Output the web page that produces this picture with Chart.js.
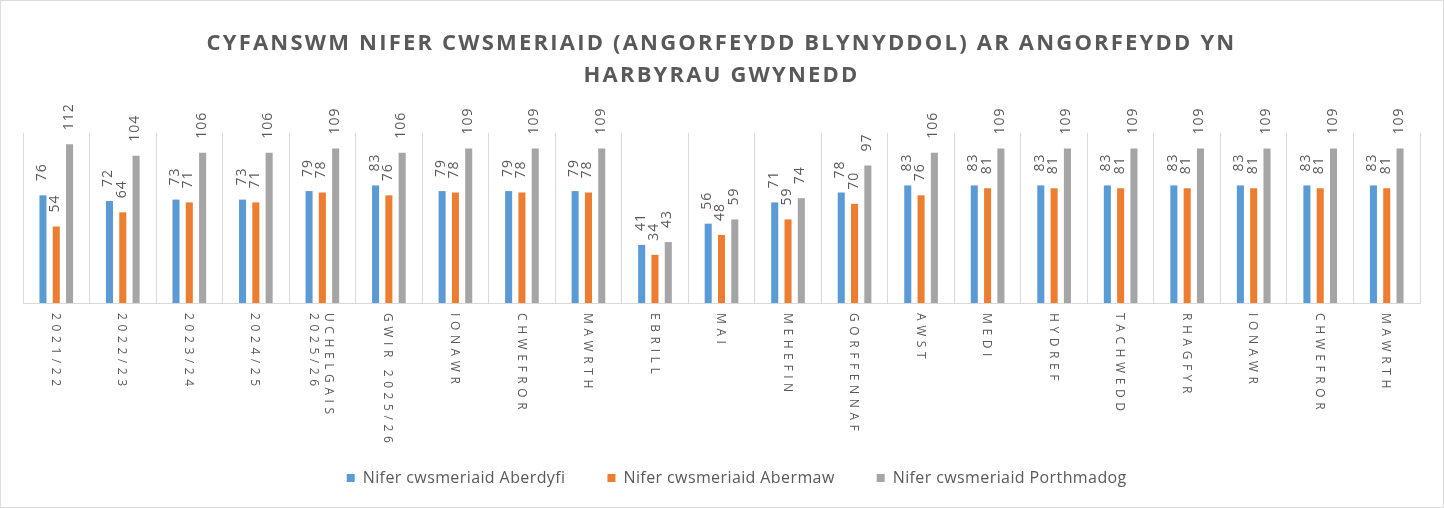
<!DOCTYPE html>
<html>
<head>
<meta charset="utf-8">
<script src="https://cdn.jsdelivr.net/npm/chart.js@4.4.1/dist/chart.umd.min.js"></script>
<style>
  html, body { margin: 0; padding: 0; background: #ffffff; }
  #c { display: block; }
</style>
</head>
<body>
<canvas id="c" width="1444" height="508"></canvas>
<script>
// ---- Data ----
const categories = [
  '2021/22', '2022/23', '2023/24', '2024/25', ['UCHELGAIS', '2025/26'], 'GWIR 2025/26',
  'IONAWR', 'CHWEFROR', 'MAWRTH', 'EBRILL', 'MAI', 'MEHEFIN', 'GORFFENNAF', 'AWST',
  'MEDI', 'HYDREF', 'TACHWEDD', 'RHAGFYR', 'IONAWR', 'CHWEFROR', 'MAWRTH'
];
const aberdyfi   = [76, 72, 73, 73, 79, 83, 79, 79, 79, 41, 56, 71, 78, 83, 83, 83, 83, 83, 83, 83, 83];
const abermaw    = [54, 64, 71, 71, 78, 76, 78, 78, 78, 34, 48, 59, 70, 76, 81, 81, 81, 81, 81, 81, 81];
const porthmadog = [112, 104, 106, 106, 109, 106, 109, 109, 109, 43, 59, 74, 97, 106, 109, 109, 109, 109, 109, 109, 109];
const seriesNames = ['Nifer cwsmeriaid Aberdyfi', 'Nifer cwsmeriaid Abermaw', 'Nifer cwsmeriaid Porthmadog'];
const titleLines = ['CYFANSWM NIFER CWSMERIAID (ANGORFEYDD BLYNYDDOL) AR ANGORFEYDD YN', 'HARBYRAU GWYNEDD'];
const yMin = 0, yMax = 120;

// ---- Styles ----
const COLORS = ['#5b9bd5', '#ed7d31', '#a5a5a5'];
const TEXT = '#595959';
const GRID = '#d9d9d9';
const FONT = "'Open Sans', 'Liberation Sans', sans-serif";

const bgBorderPlugin = {
  id: 'bgBorder',
  beforeDraw(chart) {
    const c = chart.ctx;
    c.save();
    c.fillStyle = '#ffffff';
    c.fillRect(0, 0, chart.width, chart.height);
    c.strokeStyle = '#dcdcdc';
    c.lineWidth = 1;
    c.strokeRect(0.5, 0.5, chart.width - 1, chart.height - 1);
    c.restore();
    const wrap = (box, spacing) => {
      if (box && !box._lsWrapped) {
        const orig = box.draw.bind(box);
        box.draw = function (...a) {
          const cx = chart.ctx;
          cx.save();
          cx.letterSpacing = spacing;
          orig(...a);
          cx.restore();
        };
        box._lsWrapped = true;
      }
    };
    wrap(chart.titleBlock, '2.2px');
    wrap(chart.legend, '0.4px');
  }
};

const valueLabelPlugin = {
  id: 'valueLabels',
  afterDatasetsDraw(chart) {
    const c = chart.ctx;
    c.save();
    c.font = "14px " + FONT;
    c.fillStyle = TEXT;
    c.letterSpacing = '1px';
    c.textAlign = 'left';
    c.textBaseline = 'middle';
    chart.data.datasets.forEach((ds, di) => {
      const meta = chart.getDatasetMeta(di);
      meta.data.forEach((bar, i) => {
        c.save();
        c.translate(bar.x - 1, bar.y - 14);
        c.rotate(-Math.PI / 2);
        c.fillText(String(ds.data[i]), 0, 0);
        c.restore();
      });
    });
    c.restore();
  }
};

const categoryLabelPlugin = {
  id: 'categoryLabels',
  afterDraw(chart) {
    const xs = chart.scales.x;
    const c = chart.ctx;
    c.save();
    c.font = "12px " + FONT;
    c.fillStyle = TEXT;
    c.letterSpacing = '4.6px';
    c.textAlign = 'left';
    c.textBaseline = 'middle';
    const lh = 15;
    categories.forEach((lab, i) => {
      const lines = Array.isArray(lab) ? lab : [lab];
      const x = xs.getPixelForTick(i) - 1;
      const y = chart.chartArea.bottom + 10;
      c.save();
      c.translate(x, y);
      c.rotate(Math.PI / 2);
      lines.forEach((ln, k) => {
        c.fillText(ln, 0, (k - (lines.length - 1) / 2) * lh);
      });
      c.restore();
    });
    c.restore();
  }
};

const datasets = [aberdyfi, abermaw, porthmadog].map((d, i) => ({
  label: seriesNames[i],
  data: d,
  backgroundColor: COLORS[i],
  borderWidth: 0,
  categoryPercentage: 0.6,
  barPercentage: 0.53
}));

new Chart(document.getElementById('c'), {
  type: 'bar',
  data: { labels: categories, datasets },
  plugins: [bgBorderPlugin, valueLabelPlugin, categoryLabelPlugin],
  options: {
    responsive: false,
    animation: false,
    events: [],
    layout: { padding: { left: 23, right: 24, top: 0, bottom: 12 } },
    plugins: {
      tooltip: { enabled: false },
      title: {
        display: true,
        text: titleLines,
        color: TEXT,
        font: { family: FONT, size: 22, weight: 'bold', lineHeight: 32 / 22 },
        padding: { top: 28, bottom: 41 }
      },
      legend: {
        display: true,
        position: 'bottom',
        labels: {
          color: TEXT,
          font: { family: FONT, size: 16 },
          boxWidth: 8,
          boxHeight: 8,
          padding: 42,
          useBorderRadius: false
        }
      }
    },
    scales: {
      x: {
        type: 'category',
        grid: { display: true, offset: true, color: GRID, lineWidth: 1, drawTicks: false },
        border: { display: true, color: GRID, width: 1 },
        ticks: { display: false },
        afterFit(scale) { scale.height = 125; }
      },
      y: {
        display: false,
        min: yMin,
        max: yMax
      }
    }
  }
});
</script>
</body>
</html>
